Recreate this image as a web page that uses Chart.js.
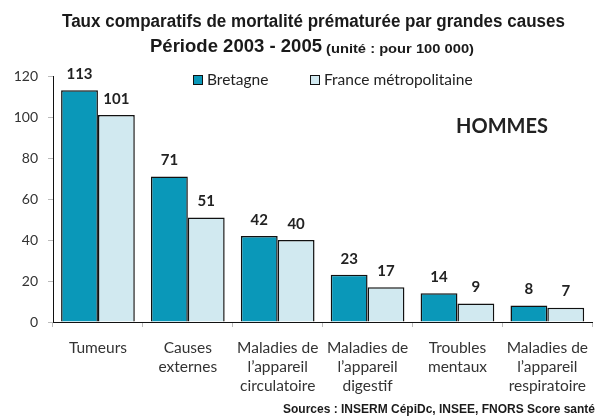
<!DOCTYPE html>
<html lang="fr">
<head>
    <meta charset="UTF-8">
    <title>Taux comparatifs de mortalité prématurée</title>
    <style>
        html, body { margin: 0; padding: 0; background: #fff; }
        #wrap { width: 599px; height: 419px; position: relative; }
    </style>
</head>
<body>
    <div id="wrap"><canvas id="chart"></canvas></div>

    <script src="https://cdn.jsdelivr.net/npm/chart.js"></script>
    <script>
        // données
        const causes = [
            ['Tumeurs'],
            ['Causes', 'externes'],
            ['Maladies de', 'l\u2019appareil', 'circulatoire'],
            ['Maladies de', 'l\u2019appareil', 'digestif'],
            ['Troubles', 'mentaux'],
            ['Maladies de', 'l\u2019appareil', 'respiratoire']
        ];
        const bretagne = [113, 71, 42, 23, 14, 8];
        const france = [101, 51, 40, 17, 9, 7];
        const yTicks = [0, 20, 40, 60, 80, 100, 120];

        const titre1 = 'Taux comparatifs de mortalit\u00e9 pr\u00e9matur\u00e9e par grandes causes';
        const titre2a = 'P\u00e9riode 2003 - 2005';
        const titre2b = '(unit\u00e9 : pour 100 000)';
        const sexe = 'HOMMES';
        const sources = 'Sources : INSERM C\u00e9piDc, INSEE, FNORS Score sant\u00e9';

        const bleu = '#0A98B9';
        const bleuClair = '#D1E9F0';
        const narrow = '"Liberation Sans Narrow", "Liberation Sans", sans-serif';
        const corps = 'Lato, "Open Sans", sans-serif';

        // texte étroit : on compresse horizontalement pour garder la largeur du modèle
        function narrowText(ctx, txt, x, y, font, width, align) {
            ctx.save();
            ctx.font = font;
            const w = ctx.measureText(txt).width;
            const k = width / w;
            let x0 = x;
            if (align === 'right') x0 = x - width;
            if (align === 'center') x0 = x - width / 2;
            ctx.translate(x0, y);
            ctx.scale(k, 1);
            ctx.textAlign = 'left';
            ctx.textBaseline = 'alphabetic';
            ctx.fillText(txt, 0, 0);
            ctx.restore();
        }

        const decor = {
            id: 'decor',
            afterDraw(chart) {
                const ctx = chart.ctx;
                ctx.fillStyle = '#1a1a1a';
                narrowText(ctx, titre1, 62, 27, 'bold 18px ' + narrow, 503, 'left');
                narrowText(ctx, titre2a, 150, 52, 'bold 18px ' + narrow, 172, 'left');
                narrowText(ctx, titre2b, 326, 53, 'bold 13px ' + narrow, 148, 'left');
                narrowText(ctx, sources, 595, 413, 'bold 13px ' + narrow, 312, 'right');

                ctx.save();
                ctx.font = 'bold 20px ' + corps;
                ctx.fillStyle = '#222';
                ctx.textAlign = 'center';
                ctx.textBaseline = 'middle';
                ctx.fillText(sexe, 502, 127);

                // légende
                ctx.font = '15.5px ' + corps;
                ctx.textAlign = 'left';
                const legX = [193, 310];
                chart.data.datasets.forEach((ds, i) => {
                    ctx.fillStyle = ds.backgroundColor;
                    ctx.fillRect(legX[i], 75, 9, 9);
                    ctx.strokeStyle = '#111';
                    ctx.lineWidth = 1;
                    ctx.strokeRect(legX[i] + 0.5, 75.5, 9, 9);
                    ctx.fillStyle = '#222';
                    ctx.fillText(ds.label, legX[i] + 14, 80);
                });

                // étiquettes de valeurs
                ctx.font = 'bold 15px ' + corps;
                ctx.fillStyle = '#222';
                ctx.textAlign = 'center';
                chart.data.datasets.forEach((ds, i) => {
                    chart.getDatasetMeta(i).data.forEach((bar, j) => {
                        ctx.fillText(ds.data[j], bar.x, bar.y - 16);
                    });
                });
                ctx.restore();
            }
        };

        new Chart(document.getElementById('chart'), {
            type: 'bar',
            data: {
                labels: causes,
                datasets: [
                    {
                        label: 'Bretagne',
                        data: bretagne,
                        backgroundColor: bleu,
                        borderColor: '#111',
                        borderWidth: 1.5
                    },
                    {
                        label: 'France m\u00e9tropolitaine',
                        data: france,
                        backgroundColor: bleuClair,
                        borderColor: '#111',
                        borderWidth: 1.5
                    }
                ]
            },
            options: {
                responsive: true,
                maintainAspectRatio: false,
                animation: false,
                datasets: {
                    bar: { categoryPercentage: 0.82, barPercentage: 1 }
                },
                layout: { padding: { top: 76, right: 0, left: 0, bottom: 0 } },
                plugins: {
                    legend: { display: false },
                    tooltip: { enabled: false }
                },
                scales: {
                    x: {
                        afterFit(scale) { scale.height = 97; },
                        grid: {
                            drawOnChartArea: false,
                            tickLength: 5,
                            color: '#bbb',
                            offset: true
                        },
                        border: { color: '#111', width: 1 },
                        ticks: {
                            color: '#333',
                            padding: 11,
                            maxRotation: 0,
                            autoSkip: false,
                            font: { family: corps, size: 15.5, lineHeight: 1.23 }
                        }
                    },
                    y: {
                        min: 0,
                        max: 120,
                        afterFit(scale) { scale.width = 53; },
                        afterBuildTicks(scale) { scale.ticks = yTicks.map(v => ({ value: v })); },
                        grid: {
                            drawOnChartArea: false,
                            tickLength: 5,
                            color: '#bbb'
                        },
                        border: { color: '#111', width: 1 },
                        ticks: {
                            color: '#333',
                            padding: 10,
                            font: { family: corps, size: 14 }
                        }
                    }
                }
            },
            plugins: [decor]
        });
    </script>
</body>
</html>
